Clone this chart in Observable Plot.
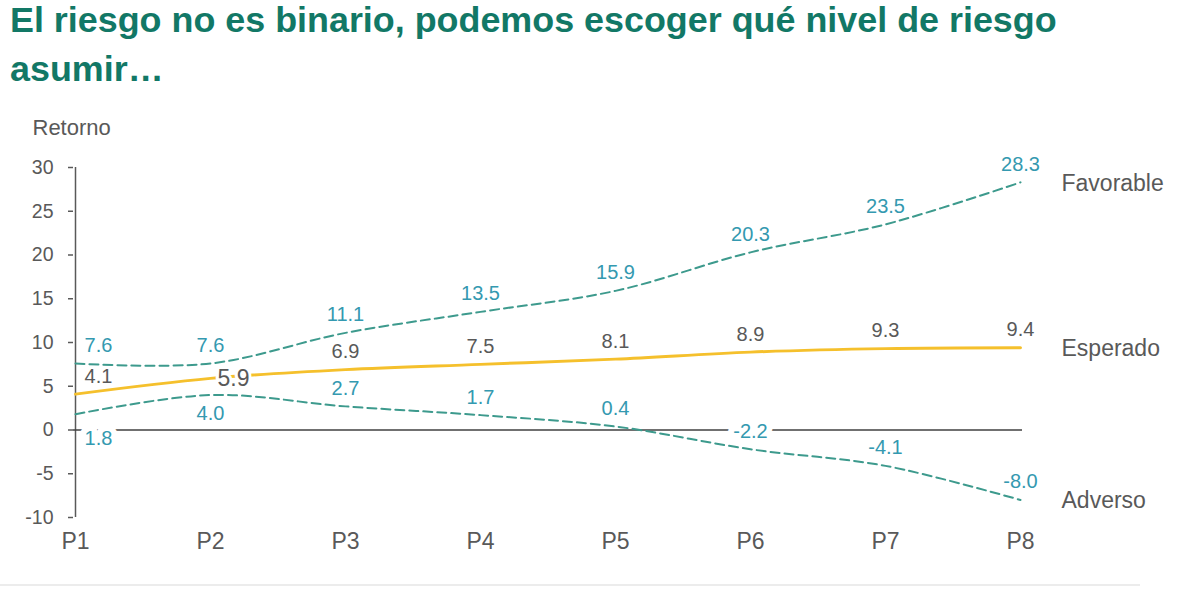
<!DOCTYPE html>
<html>
<head>
<meta charset="utf-8">
<script src="https://cdn.jsdelivr.net/npm/d3@7"></script>
<script src="https://cdn.jsdelivr.net/npm/@observablehq/plot@0.6"></script>
<style>
  html, body { margin: 0; padding: 0; background: #ffffff; }
  #page { position: relative; width: 1182px; height: 590px; overflow: hidden; }
  .title { position: absolute; left: 10px; color: #127866; font-family: "Liberation Sans", Arial, sans-serif; font-weight: 700; white-space: nowrap; }
  #chart { position: absolute; left: 0; top: 100px; }
  #rule { position: absolute; left: 0; top: 584px; width: 1140px; height: 2px; background: #ececec; }
</style>
</head>
<body>
<div id="page">
  <div class="title" id="t1"></div>
  <div class="title" id="t2"></div>
  <div id="chart"></div>
  <div id="rule"></div>
</div>
<script>
// ---- data ----
const titleLines = ["El riesgo no es binario, podemos escoger qué nivel de riesgo", "asumir…"];
const yLabel = "Retorno";
const periods = ["P1", "P2", "P3", "P4", "P5", "P6", "P7", "P8"];
const seriesNames = ["Favorable", "Esperado", "Adverso"];
const favorable = [7.6, 7.6, 11.1, 13.5, 15.9, 20.3, 23.5, 28.3];
const esperado = [4.1, 5.9, 6.9, 7.5, 8.1, 8.9, 9.3, 9.4];
const adverso = [1.8, 4.0, 2.7, 1.7, 0.4, -2.2, -4.1, -8.0];
const yTicks = [-10, -5, 0, 5, 10, 15, 20, 25, 30];

// label placement (style)
const favorablePlace = ["above-right", "above", "above", "above", "above", "above", "above", "above"];
const esperadoPlace = ["above-right", "right", "above", "above", "above", "above", "above", "above"];
const adversoPlace = ["below-right", "below", "above", "above", "above", "above", "above", "above"];

// ---- title ----
const fontFam = '"Liberation Sans", Arial, sans-serif';
const ctx = document.createElement("canvas").getContext("2d");
ctx.font = `700 100px ${fontFam}`;
const w100 = ctx.measureText(titleLines[0]).width;
const F = 100 * 1047 / w100;
const baselines = [33, 82];
[document.getElementById("t1"), document.getElementById("t2")].forEach((el, i) => {
  el.textContent = titleLines[i];
  el.style.fontSize = F + "px";
  el.style.lineHeight = (1.15 * F) + "px";
  const asc = 0.905 * F, cont = 1.117 * F;
  el.style.top = (baselines[i] - ((1.15 * F - cont) / 2 + asc)) + "px";
});

// ---- build table ----
const valuesBySeries = {Favorable: favorable, Esperado: esperado, Adverso: adverso};
const placeBySeries = {Favorable: favorablePlace, Esperado: esperadoPlace, Adverso: adversoPlace};
const rows = [];
for (const s of seriesNames) {
  valuesBySeries[s].forEach((v, i) => rows.push({series: s, period: periods[i], value: v, place: placeBySeries[s][i]}));
}

const teal = "#3d9a8d";
const labelTeal = "#3499b0";
const grey = "#595959";
const gold = "#f5c02c";
const fmt = v => v.toFixed(1);

const placements = {
  "above": {dx: 0, dy: -18},
  "below": {dx: 0, dy: 19},
  "above-right": {dx: 23, dy: -18},
  "below-right": {dx: 23, dy: 24},
  "right": {dx: 23, dy: 0}
};

const labelMarks = [];
for (const [p, off] of Object.entries(placements)) {
  const subset = rows.filter(d => d.place === p);
  if (!subset.length) continue;
  labelMarks.push(Plot.text(subset, {
    x: "period", y: "value", text: d => fmt(d.value),
    dx: off.dx, dy: off.dy,
    fontSize: p === "right" ? 23 : 20,
    fill: d => d.series === "Esperado" ? grey : labelTeal,
    stroke: "white",
    strokeWidth: d => d.series === "Adverso" ? 12 : 6,
    strokeLinejoin: "round", paintOrder: "stroke"
  }));
}

const lastRows = rows.filter(d => d.period === periods[periods.length - 1]);

const chart = Plot.plot({
  width: 1182,
  height: 490,
  marginLeft: 73,
  marginRight: 160,
  marginTop: 67,
  marginBottom: 73,
  x: {type: "point", domain: periods, padding: 0},
  y: {domain: [-10, 30]},
  style: {fontFamily: fontFam, color: grey, background: "white", overflow: "visible"},
  marks: [
    Plot.ruleX([periods[0]], {y1: yTicks[0], y2: yTicks[yTicks.length - 1], stroke: grey, strokeWidth: 1.5}),
    Plot.axisY({ticks: yTicks, tickFormat: d => String(d), tickSize: 5, tickPadding: 15, fontSize: 19.5, label: null, stroke: grey, strokeWidth: 1.5}),
    Plot.axisX({tickSize: 0, tickPadding: 15, fontSize: 23, label: null}),
    Plot.ruleY([0], {stroke: "#404040", strokeWidth: 1.5}),
    Plot.line(rows.filter(d => d.series === "Favorable"), {x: "period", y: "value", curve: "catmull-rom", stroke: teal, strokeWidth: 2, strokeDasharray: "9,5"}),
    Plot.line(rows.filter(d => d.series === "Adverso"), {x: "period", y: "value", curve: "catmull-rom", stroke: teal, strokeWidth: 2, strokeDasharray: "9,5"}),
    Plot.line(rows.filter(d => d.series === "Esperado"), {x: "period", y: "value", curve: "catmull-rom", stroke: gold, strokeWidth: 3}),
    ...labelMarks,
    Plot.text(lastRows, {x: "period", y: "value", text: "series", dx: 41, dy: 1, textAnchor: "start", fontSize: 23, fill: grey}),
    Plot.text([yLabel], {frameAnchor: "top-left", text: d => d, dx: -41, dy: -40, textAnchor: "start", lineAnchor: "middle", fontSize: 22, fill: grey})
  ]
});
document.getElementById("chart").appendChild(chart);
</script>
</body>
</html>
